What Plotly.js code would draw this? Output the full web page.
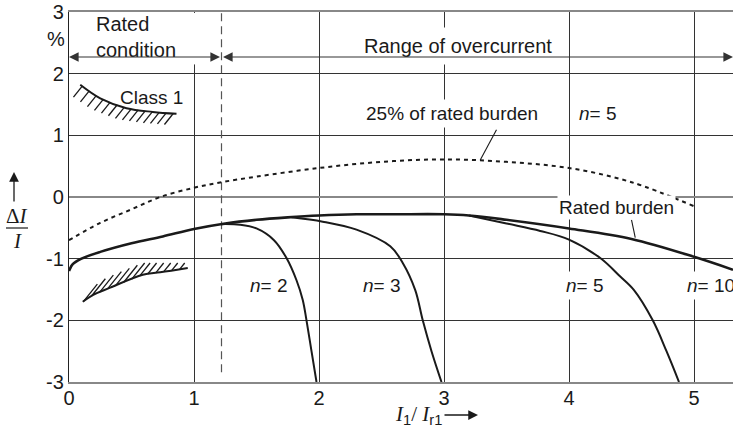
<!DOCTYPE html>
<html>
<head>
<meta charset="utf-8">
<script src="https://cdn.plot.ly/plotly-3.0.1.min.js"></script>
<style>html,body{margin:0;padding:0;background:#fff;}#chart{width:733px;height:432px;}</style>
</head>
<body>
<div id="chart"></div>
<script>
// ---- data ----
const xTicks = [0, 1, 2, 3, 4, 5];
const yTicks = [-3, -2, -1, 0, 1, 2, 3];

// Rated burden
const ratedX = [0, 0.03, 0.1, 0.25, 0.5, 0.75, 1.0, 1.25, 1.5, 1.75, 2.0, 2.3, 2.6, 3.0, 3.2, 3.5, 4.0, 4.5, 5.0, 5.312];
const ratedY = [-1.2, -1.09, -1.0, -0.89, -0.75, -0.64, -0.52, -0.43, -0.37, -0.33, -0.30, -0.28, -0.28, -0.28, -0.30, -0.37, -0.51, -0.68, -0.97, -1.18];

// 25% of rated burden
const quarterX = [0, 0.25, 0.5, 0.73, 1.0, 1.22, 1.5, 2.0, 2.5, 3.0, 3.5, 4.0, 4.5, 5.0];
const quarterY = [-0.70, -0.42, -0.20, 0.0, 0.15, 0.24, 0.33, 0.47, 0.57, 0.61, 0.57, 0.47, 0.24, -0.15];

// overcurrent factor curves
const n2X = [1.22, 1.37, 1.5, 1.64, 1.74, 1.82, 1.87, 1.90, 1.94, 1.98];
const n2Y = [-0.44, -0.45, -0.51, -0.70, -0.99, -1.35, -1.67, -2.0, -2.5, -3.0];
const n3X = [1.78, 2.03, 2.3, 2.57, 2.67, 2.77, 2.83, 2.90, 2.98];
const n3Y = [-0.33, -0.40, -0.53, -0.80, -1.07, -1.51, -2.0, -2.5, -3.0];
const n5X = [3.2, 3.5, 3.77, 4.0, 4.25, 4.41, 4.52, 4.67, 4.78, 4.88];
const n5Y = [-0.30, -0.43, -0.55, -0.69, -0.99, -1.29, -1.51, -2.0, -2.5, -3.0];

// Class 1 limits
const limUpX = [0.09, 0.25, 0.46, 0.67, 0.86];
const limUpY = [1.82, 1.60, 1.44, 1.38, 1.35];
const limLoX = [0.11, 0.19, 0.33, 0.59, 0.73, 0.95];
const limLoY = [-1.70, -1.59, -1.47, -1.26, -1.22, -1.15];

// ---- geometry helpers (decoration only) ----
const XMAX = 5.312;
const PXX = 664 / XMAX, PXY = 370 / 6;
function interp(xs, ys, x) {
  for (let i = 0; i < xs.length - 1; i++) {
    if (x >= xs[i] && x <= xs[i + 1]) {
      const t = (x - xs[i]) / (xs[i + 1] - xs[i]);
      return ys[i] + t * (ys[i + 1] - ys[i]);
    }
  }
  return ys[ys.length - 1];
}
function hatch(xs, ys, sx, sy, lenFn, stepPx, startOff) {
  const hx = [], hy = [];
  const x0 = xs[0] + startOff / PXX, x1 = xs[xs.length - 1];
  for (let x = x0; x <= x1; x += stepPx / PXX) {
    const y = interp(xs, ys, x);
    const L = lenFn(x, y);
    if (L <= 1) continue;
    hx.push(x, x + sx * L * 0.8 / PXX, null);
    hy.push(y, y + sy * L / PXY, null);
  }
  return {hx, hy};
}
const hUp = hatch(limUpX, limUpY, -1, -1, () => 11, 7, 2);
const hLo = hatch(limLoX, limLoY, 1, 1, (x, y) => Math.min(17, (y - (-1.07)) * -PXY), 8, 1);

const ink = '#1a1a1a';
const sm = 1.0;
const traces = [
  {x: quarterX, y: quarterY, mode: 'lines', line: {color: ink, width: 2, dash: '4px,4px', shape: 'spline', smoothing: sm}},
  {x: ratedX, y: ratedY, mode: 'lines', line: {color: ink, width: 2.6, shape: 'spline', smoothing: sm}},
  {x: n2X, y: n2Y, mode: 'lines', line: {color: ink, width: 2, shape: 'spline', smoothing: sm}},
  {x: n3X, y: n3Y, mode: 'lines', line: {color: ink, width: 2, shape: 'spline', smoothing: sm}},
  {x: n5X, y: n5Y, mode: 'lines', line: {color: ink, width: 2, shape: 'spline', smoothing: sm}},
  {x: limUpX, y: limUpY, mode: 'lines', line: {color: ink, width: 2, shape: 'spline', smoothing: sm}},
  {x: limLoX, y: limLoY, mode: 'lines', line: {color: ink, width: 2, shape: 'spline', smoothing: sm}},
  {x: hUp.hx, y: hUp.hy, mode: 'lines', line: {color: ink, width: 1.3}},
  {x: hLo.hx, y: hLo.hy, mode: 'lines', line: {color: ink, width: 1.3}}
];
traces.forEach(t => { t.hoverinfo = 'skip'; t.showlegend = false; });

const sans = 'Liberation Sans, Arial, sans-serif';
const serif = 'Liberation Serif, Times New Roman, serif';
const f19 = {family: sans, size: 19, color: ink};
const px2paperX = p => (p - 69) / 664;
const px2paperY = p => (382 - p) / 370;

const annotations = [
  {xref: 'paper', yref: 'paper', x: px2paperX(56), y: px2paperY(39), xanchor: 'center', yanchor: 'middle', text: '%', showarrow: false, font: {family: sans, size: 20, color: ink}},
  {xref: 'x', yref: 'y', x: 0.2, y: 2.6, text: 'Rated<br>condition', align: 'left', xanchor: 'left', showarrow: false, font: {family: sans, size: 20, color: ink}},
  {xref: 'x', yref: 'y', x: 3.11, y: 2.45, text: 'Range of overcurrent', showarrow: false, font: {family: sans, size: 20, color: ink}, bgcolor: '#fff', borderpad: 7},
  {xref: 'x', yref: 'y', x: 0.66, y: 1.62, text: 'Class 1', showarrow: false, font: f19},
  {xref: 'x', yref: 'y', x: 3.06, y: 1.36, text: '25% of rated burden', showarrow: false, font: f19, bgcolor: '#fff', borderpad: 3},
  {xref: 'x', yref: 'y', x: 4.23, y: 1.36, text: '<i>n</i>= 5', showarrow: false, font: f19, bgcolor: '#fff', borderpad: 3},
  {xref: 'x', yref: 'y', x: 4.38, y: -0.17, text: 'Rated burden', showarrow: false, font: f19, bgcolor: '#fff', borderpad: 1},
  {xref: 'x', yref: 'y', x: 1.60, y: -1.43, text: '<i>n</i>= 2', showarrow: false, font: f19},
  {xref: 'x', yref: 'y', x: 2.50, y: -1.43, text: '<i>n</i>= 3', showarrow: false, font: f19},
  {xref: 'x', yref: 'y', x: 4.13, y: -1.43, text: '<i>n</i>= 5', showarrow: false, font: f19, bgcolor: '#fff', borderpad: 3},
  {xref: 'x', yref: 'y', x: 4.91, y: -1.43, xanchor: 'left', text: '<i>n</i>= 10', showarrow: false, font: f19, bgcolor: '#fff', borderpad: 3},
  // range arrows
  {xref: 'x', yref: 'y', axref: 'x', ayref: 'y', x: 0, y: 2.27, ax: 1.22, ay: 2.27, text: '', showarrow: true, arrowside: 'end+start', arrowhead: 2, startarrowhead: 2, arrowsize: 1.6, startarrowsize: 1.6, arrowwidth: 1.2, arrowcolor: '#333', standoff: 0, startstandoff: 0},
  {xref: 'x', yref: 'y', axref: 'x', ayref: 'y', x: XMAX, y: 2.27, ax: 1.22, ay: 2.27, text: '', showarrow: true, arrowside: 'end+start', arrowhead: 2, startarrowhead: 2, arrowsize: 1.6, startarrowsize: 1.6, arrowwidth: 1.2, arrowcolor: '#333', standoff: 0, startstandoff: 0},
  // y title
  {xref: 'paper', yref: 'paper', x: px2paperX(14), y: px2paperY(172), ax: 0, ay: 31, text: '', showarrow: true, arrowhead: 2, arrowsize: 1.5, arrowwidth: 1.3, arrowcolor: ink, standoff: 0},
  {xref: 'paper', yref: 'paper', x: px2paperX(17), y: px2paperY(216), xanchor: 'center', yanchor: 'middle', text: 'Δ<i>I</i>', showarrow: false, font: {family: serif, size: 21, color: ink}},
  {xref: 'paper', yref: 'paper', x: px2paperX(17), y: px2paperY(241), xanchor: 'center', yanchor: 'middle', text: '<i>I</i>', showarrow: false, font: {family: serif, size: 21, color: ink}},
  // x title
  {xref: 'paper', yref: 'paper', x: px2paperX(393), y: px2paperY(415), xanchor: 'left', yanchor: 'middle', text: '<i>I</i><sub><span style="font-family:Liberation Sans">1</span></sub>/ <i>I</i><sub><span style="font-family:Liberation Sans">r1</span></sub>', showarrow: false, font: {family: serif, size: 21, color: ink}},
  {xref: 'paper', yref: 'paper', x: px2paperX(478), y: px2paperY(415), ax: -35, ay: 0, text: '', showarrow: true, arrowhead: 2, arrowsize: 1.5, arrowwidth: 1.3, arrowcolor: ink, standoff: 0}
];

const shapes = [
  // mask top of x=1 gridline
  {type: 'rect', xref: 'x', yref: 'y', x0: 0.97, x1: 1.03, y0: 2.15, y1: 2.985, fillcolor: '#fff', line: {width: 0}, layer: 'between'},
  // boundary between rated condition and overcurrent
  {type: 'line', xref: 'x', yref: 'y', x0: 1.22, x1: 1.22, y0: -2.84, y1: 3, line: {color: '#555', width: 1.2, dash: '8px,5px'}, layer: 'between'},
  // leaders
  {type: 'line', xref: 'x', yref: 'y', x0: 3.42, y0: 1.09, x1: 3.29, y1: 0.60, line: {color: ink, width: 1.1}},
  {type: 'line', xref: 'x', yref: 'y', x0: 4.50, y0: -0.37, x1: 4.53, y1: -0.66, line: {color: ink, width: 1.1}},
  // fraction bar
  {type: 'line', xref: 'paper', yref: 'paper', x0: px2paperX(6), x1: px2paperX(28), y0: px2paperY(228), y1: px2paperY(228), line: {color: ink, width: 1.2}}
];

const layout = {
  width: 733, height: 432,
  margin: {l: 69, r: 0, t: 12, b: 50, pad: 0},
  paper_bgcolor: '#fff', plot_bgcolor: '#fff',
  showlegend: false,
  xaxis: {
    range: [0, XMAX], tickmode: 'array', tickvals: xTicks, ticktext: xTicks.map(String),
    showgrid: true, gridcolor: '#333', gridwidth: 1, zeroline: false,
    showline: true, linecolor: '#888', linewidth: 2, mirror: true,
    ticks: '', ticklabelstandoff: -3,
    tickfont: {family: sans, size: 20, color: ink}, fixedrange: true
  },
  yaxis: {
    range: [-3, 3], tickmode: 'array', tickvals: yTicks, ticktext: yTicks.map(String),
    showgrid: true, gridcolor: '#333', gridwidth: 1,
    zeroline: true, zerolinecolor: '#888', zerolinewidth: 2,
    showline: true, linecolor: '#222', linewidth: 1.2, mirror: false,
    ticks: '', ticklabelstandoff: 0,
    tickfont: {family: sans, size: 20, color: ink}, fixedrange: true
  },
  annotations: annotations,
  shapes: shapes
};

Plotly.newPlot('chart', traces, layout, {staticPlot: true, displayModeBar: false});
</script>
</body>
</html>
